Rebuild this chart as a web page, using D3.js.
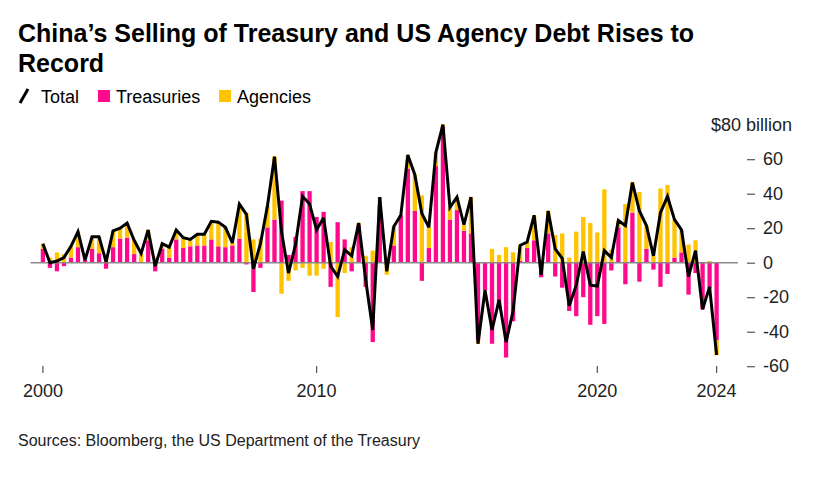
<!DOCTYPE html>
<html><head><meta charset="utf-8">
<script src="https://cdn.jsdelivr.net/npm/d3@7"></script>
<style>
body{margin:0;background:#fff}
svg{display:block}
text{font-family:"Liberation Sans",Arial,Helvetica,sans-serif}
</style>
</head><body>
<svg id="chart" width="832" height="491"></svg>
<script>
// ---- data (billion USD, quarterly net purchases/sales) ----
const quarters = [
"2000Q1","2000Q2","2000Q3","2000Q4","2001Q1","2001Q2","2001Q3","2001Q4",
"2002Q1","2002Q2","2002Q3","2002Q4","2003Q1","2003Q2","2003Q3","2003Q4",
"2004Q1","2004Q2","2004Q3","2004Q4","2005Q1","2005Q2","2005Q3","2005Q4",
"2006Q1","2006Q2","2006Q3","2006Q4","2007Q1","2007Q2","2007Q3","2007Q4",
"2008Q1","2008Q2","2008Q3","2008Q4","2009Q1","2009Q2","2009Q3","2009Q4",
"2010Q1","2010Q2","2010Q3","2010Q4","2011Q1","2011Q2","2011Q3","2011Q4",
"2012Q1","2012Q2","2012Q3","2012Q4","2013Q1","2013Q2","2013Q3","2013Q4",
"2014Q1","2014Q2","2014Q3","2014Q4","2015Q1","2015Q2","2015Q3","2015Q4",
"2016Q1","2016Q2","2016Q3","2016Q4","2017Q1","2017Q2","2017Q3","2017Q4",
"2018Q1","2018Q2","2018Q3","2018Q4","2019Q1","2019Q2","2019Q3","2019Q4",
"2020Q1","2020Q2","2020Q3","2020Q4","2021Q1","2021Q2","2021Q3","2021Q4",
"2022Q1","2022Q2","2022Q3","2022Q4","2023Q1","2023Q2","2023Q3","2023Q4",
"2024Q1"];
const treasuries = [
 8,-3,-5,-2, 3, 9, 1.5, 8,
 5.5,-3.5, 9, 14, 14.5, 5, 0, 13,
 -5, 8, 3, 13.5, 8.5, 9.5, 10, 10,
 13.5, 9.5, 9, 10, 14, -1, -17, -3,
 20.5, 25, 36, 4.5, 15, 41.5, 41.5, 26.5,
 29.5, -14, 23.5, 13.5, -5, 22, -14, -46,
 33.5, 2, 10, 27.5, 54.5, 30, -10.5, 8.5,
 56, 79, 25, 30.5, 18.5, 17, -45, -16,
 -47, -26, -55, -34, 1, 8.5, 13, -8.5,
 17, -8, -14.5, -28, -31, -20, -36, -31,
 -35.5, -4.5, 20.5, -12.5, 29, -11, 8, -4,
 -14, -6.5, 3, 6, -18.5, -6, -27, -15,
 -45];
const agencies = [
 3, 3, 6, 5, 6.5, 9, 0, 7,
 9.5, 4, 9.5, 6, 8.5, 8, 5.4, 6,
 3, 3, 6, 5.5, 6, 4, 6.5, 6.5,
 10.5, 14, 11.5, 1.5, 20, 29, 13.5, 14,
 12.5, 36.5, -18, -10.5, -4.5, -3, -7.5, -7.5,
 -3.5, 12, -31.5, -6, 9, 1, 4, 7,
 4.5, -7, 11, 0, 8, 21, 39, 12,
 8, 1, 7, 7.5, 3.5, 21, -2, 0,
 8, 4.5, 9, 6, 9, 3.5, 14.5, 1.5,
 13, 16, 17, 3, 18, 26.5, 23, 17.5,
 42.5, 7.5, 4, 34, 17.5, 41, 13.5, 8,
 43, 45, 22, 13, 10.5, 13, 0, 1,
 -8.5];
const yTicks = [-60, -40, -20, 0, 20, 40, 60];
const yTopTick = 80;
const xTickQuarters = ["2000Q1", "2009Q4", "2019Q4", "2024Q1"];
const xTickLabels = ["2000", "2010", "2020", "2024"];
const seriesNames = ["Treasuries", "Agencies"];
const colors = {Treasuries: "#ff0a8c", Agencies: "#ffc300", Total: "#000"};

// ---- build table ----
const rows = quarters.map((q, i) => ({q, Treasuries: treasuries[i], Agencies: agencies[i]}));
rows.forEach(r => r.Total = r.Treasuries + r.Agencies);

const svg = d3.select("#chart");
const x = d3.scalePoint().domain(quarters).range([42.9, 716.6]);
const y = d3.scaleLinear().domain([-60, 60]).range([366.2, 159.2]);
const barW = 4.3;

// ---- title ----
svg.append("text").attr("x", 18).attr("y", 42).attr("font-size", 25).attr("font-weight", 700)
  .attr("fill", "#000").text("China’s Selling of Treasury and US Agency Debt Rises to");
svg.append("text").attr("x", 18).attr("y", 72).attr("font-size", 25).attr("font-weight", 700)
  .attr("fill", "#000").text("Record");

// ---- legend ----
const lg = svg.append("g");
lg.append("line").attr("x1", 20).attr("y1", 103).attr("x2", 28).attr("y2", 89)
  .attr("stroke", "#000").attr("stroke-width", 3);
lg.append("text").attr("x", 41).attr("y", 103).attr("font-size", 18).attr("fill", "#000").text("Total");
lg.append("rect").attr("x", 98).attr("y", 90).attr("width", 12).attr("height", 12).attr("fill", colors.Treasuries);
lg.append("text").attr("x", 116).attr("y", 103).attr("font-size", 18).attr("fill", "#000").text("Treasuries");
lg.append("rect").attr("x", 219).attr("y", 90).attr("width", 12).attr("height", 12).attr("fill", colors.Agencies);
lg.append("text").attr("x", 237).attr("y", 103).attr("font-size", 18).attr("fill", "#000").text("Agencies");

// ---- bars ----
const stack = d3.stack().keys(seriesNames).offset(d3.stackOffsetDiverging);
const stacked = stack(rows);
svg.append("g").selectAll("g").data(stacked).join("g")
  .attr("fill", d => colors[d.key])
  .selectAll("rect").data(d => d).join("rect")
  .attr("x", d => x(d.data.q) - barW / 2)
  .attr("width", barW)
  .attr("y", d => y(Math.max(d[0], d[1])))
  .attr("height", d => Math.abs(y(d[0]) - y(d[1])));

// ---- zero line ----
svg.append("line").attr("x1", 30.5).attr("x2", 738).attr("y1", y(0)).attr("y2", y(0))
  .attr("stroke", "#8a8a8a").attr("stroke-width", 1.5);

// ---- total line ----
svg.append("path").datum(rows)
  .attr("fill", "none").attr("stroke", colors.Total).attr("stroke-width", 3)
  .attr("stroke-linejoin", "miter").attr("stroke-miterlimit", 3)
  .attr("d", d3.line().x(d => x(d.q)).y(d => y(d.Total)));

// ---- y axis (right) ----
const yAxis = d3.axisRight(y).tickValues(yTicks).tickSize(8).tickPadding(8).tickFormat(d => String(d));
const ya = svg.append("g").attr("transform", "translate(747,0)").call(yAxis);
ya.select(".domain").remove();
ya.selectAll(".tick line").attr("stroke", "#555").attr("stroke-width", 1.2);
ya.selectAll(".tick text").attr("font-size", 18).attr("fill", "#222")
  .attr("font-family", '"Liberation Sans",Arial,sans-serif');
svg.append("text").attr("x", 792).attr("y", y(yTopTick) + 6).attr("text-anchor", "end")
  .attr("font-size", 18).attr("fill", "#222").text("$" + yTopTick + " billion");

// ---- x axis ----
const xg = svg.append("g");
xTickQuarters.forEach((q, i) => {
  xg.append("line").attr("x1", x(q)).attr("x2", x(q)).attr("y1", 366).attr("y2", 373)
    .attr("stroke", "#555").attr("stroke-width", 1.2);
  xg.append("text").attr("x", x(q)).attr("y", 397).attr("text-anchor", "middle")
    .attr("font-size", 18).attr("fill", "#222").text(xTickLabels[i]);
});

// ---- source ----
svg.append("text").attr("x", 18).attr("y", 446).attr("font-size", 16).attr("fill", "#222")
  .text("Sources: Bloomberg, the US Department of the Treasury");
</script>
</body></html>
